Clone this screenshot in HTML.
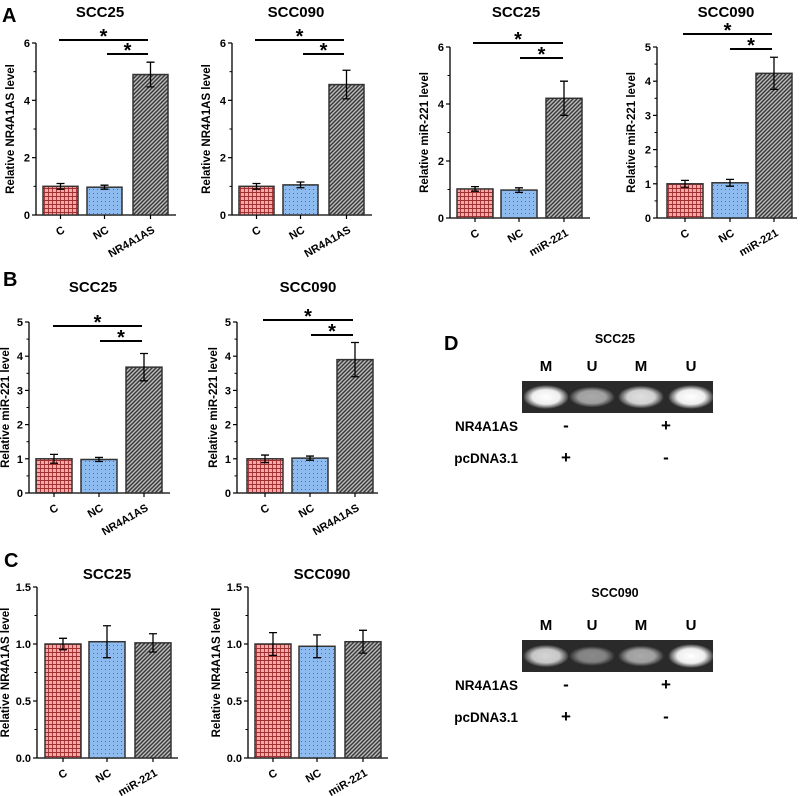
<!DOCTYPE html>
<html><head><meta charset="utf-8"><style>
body{margin:0;background:#fff}
svg{display:block;font-family:"Liberation Sans",Arial,sans-serif;font-weight:bold}
</style></head><body>
<svg id="fig" width="800" height="796" viewBox="0 0 800 796">
<defs>
<pattern id="pRed" width="4" height="4" patternUnits="userSpaceOnUse"><rect width="4" height="4" fill="#f7a7a7"/><path d="M0 0.5H4M0.5 0V4" stroke="#a03030" stroke-width="0.9"/></pattern>
<pattern id="pBlue" width="4" height="4" patternUnits="userSpaceOnUse"><rect width="4" height="4" fill="#8ebcf0"/><rect x="1" y="1" width="1" height="1" fill="#4a6fa0"/></pattern>
<pattern id="pGrey" width="4" height="4" patternUnits="userSpaceOnUse"><rect width="4" height="4" fill="#bdbdbd"/><path d="M0 4L4 0M-1 1L1 -1M3 5L5 3" stroke="#3a3a3a" stroke-width="1.5"/></pattern>
<radialGradient id="band"><stop offset="0" stop-color="#fff"/><stop offset="0.6" stop-color="#eee"/><stop offset="1" stop-color="#fff" stop-opacity="0"/></radialGradient>
</defs>
<g font-size="20">
<text x="2" y="22">A</text>
<text x="3" y="286">B</text>
<text x="4" y="567">C</text>
<text x="444" y="350">D</text>
</g>
<g id="charts"></g>
<g id="gels"></g>
</svg>
<script>
const cats_A12=["C","NC","NR4A1AS"];
const cats_A34=["C","NC","miR-221"];
const vals_A1=[1.0,0.97,4.9];    const err_A1=[0.1,0.07,0.43];
const vals_A2=[1.0,1.05,4.55];   const err_A2=[0.1,0.1,0.5];
const vals_A3=[1.02,0.98,4.2];   const err_A3=[0.08,0.08,0.6];
const vals_A4=[1.0,1.03,4.23];   const err_A4=[0.1,0.1,0.47];
const vals_B1=[1.0,0.98,3.68];   const err_B1=[0.13,0.06,0.4];
const vals_B2=[1.0,1.02,3.9];    const err_B2=[0.11,0.06,0.5];
const vals_C1=[1.0,1.02,1.01];   const err_C1=[0.05,0.14,0.08];
const vals_C2=[1.0,0.98,1.02];   const err_C2=[0.1,0.1,0.1];
const ticks6=[0,2,4,6], ticks5=[0,1,2,3,4,5], ticks15=[0,0.5,1.0,1.5];
const tickLbl15=["0.0","0.5","1.0","1.5"];

const NS="http://www.w3.org/2000/svg";
function mk(tag,attrs,parent,txt){const e=document.createElementNS(NS,tag);for(const k in attrs)e.setAttribute(k,attrs[k]);if(txt!==undefined)e.textContent=txt;parent.appendChild(e);return e;}
const fills=["url(#pRed)","url(#pBlue)","url(#pGrey)"];

function chart(o){
  const g=mk('g',{},document.getElementById('charts'));
  
  
  const y=v=>o.y0-(v/o.max)*(o.y0-o.yTop);
  const t=mk('text',{x:o.tx,y:o.ty,'text-anchor':'middle','font-size':15},g,o.title);
  
  
  const ax=mk('line',{x1:o.ax,y1:o.yTop,x2:o.ax,y2:o.y0,stroke:'#000','stroke-width':1.3},g);
  
  
  const xa=mk('line',{x1:o.ax,y1:o.y0,x2:o.axEnd,y2:o.y0,stroke:'#000','stroke-width':1.3},g);
  
  
  o.ticks.forEach((tv,i)=>{
    mk('line',{x1:o.ax-4,y1:y(tv),x2:o.ax,y2:y(tv),stroke:'#000','stroke-width':1.2},g);
    const tl=mk('text',{x:o.ax-6,y:y(tv)+4,'text-anchor':'end','font-size':11},g,o.tickLbl?o.tickLbl[i]:String(tv));
    
    
    if(i<o.ticks.length-1){const m=(tv+o.ticks[i+1])/2;mk('line',{x1:o.ax-2.5,y1:y(m),x2:o.ax,y2:y(m),stroke:'#000','stroke-width':1},g);}
  });
  const yt=mk('text',{transform:`translate(${o.ax-o.ytOff},${(o.yTop+o.y0)/2}) rotate(-90)`,'text-anchor':'middle','font-size':11.5},g,o.ytitle);
  
  
  o.vals.forEach((v,i)=>{
    const x0=o.bx[i], w=o.bw, cx=x0+w/2;
    const b=mk('rect',{x:x0,y:y(v),width:w,height:o.y0-y(v),fill:fills[i],stroke:'#333','stroke-width':1.5},g);
    
    
    const e=o.err[i];
    const eb=mk('path',{d:`M${cx} ${y(v+e)}V${y(v-e)}M${cx-4} ${y(v+e)}H${cx+4}M${cx-4} ${y(v-e)}H${cx+4}`,stroke:'#000','stroke-width':1.3,fill:'none'},g);
    
    
    mk('line',{x1:cx,y1:o.y0,x2:cx,y2:o.y0+4,stroke:'#000','stroke-width':1.2},g);
    const xl=mk('text',{transform:`translate(${cx+5},${o.y0+17}) rotate(-30)`,'text-anchor':'end','font-size':11},g,o.cats[i]);
    
    
  });
  if(o.sig){
    o.sig.forEach(s=>{
      const l=mk('line',{x1:s[0],y1:s[2],x2:s[1],y2:s[2],stroke:'#000','stroke-width':2},g);
      
      
      const st=mk('text',{x:(s[0]+s[1])/2,y:s[2]+3,'text-anchor':'middle','font-size':20},g,'*');
      
      
    });
  }
}
chart({name:'chart-a1',title:'SCC25',tx:100,ty:17,ax:36,axEnd:176,yTop:43,y0:215,max:6,ticks:ticks6,ytitle:'Relative NR4A1AS level',ytOff:22,bx:[43,87,133],bw:35,cats:cats_A12,vals:vals_A1,err:err_A1,sig:[[59,148,40],[107,148,54]]});
chart({name:'chart-a2',title:'SCC090',tx:296,ty:17,ax:232,axEnd:372,yTop:43,y0:215,max:6,ticks:ticks6,ytitle:'Relative NR4A1AS level',ytOff:22,bx:[239,283,329],bw:35,cats:cats_A12,vals:vals_A2,err:err_A2,sig:[[255,344,40],[303,344,54]]});
chart({name:'chart-a3',title:'SCC25',tx:516,ty:17,ax:450,axEnd:590,yTop:47,y0:218,max:6,ticks:ticks6,ytitle:'Relative miR-221 level',ytOff:22,bx:[457,501,546],bw:36,cats:cats_A34,vals:vals_A3,err:err_A3,sig:[[473,563,43],[520,563,58]]});
chart({name:'chart-a4',title:'SCC090',tx:726,ty:17,ax:657,axEnd:797,yTop:47,y0:218,max:5,ticks:ticks5,ytitle:'Relative miR-221 level',ytOff:22,bx:[667,712,756],bw:36,cats:cats_A34,vals:vals_A4,err:err_A4,sig:[[683,772,34],[730,772,49]]});
chart({name:'chart-b1',title:'SCC25',tx:93,ty:292,ax:29,axEnd:170,yTop:322,y0:493,max:5,ticks:ticks5,ytitle:'Relative miR-221 level',ytOff:20,bx:[36,81,126],bw:36,cats:cats_A12,vals:vals_B1,err:err_B1,sig:[[53,142,326],[100,142,341]]});
chart({name:'chart-b2',title:'SCC090',tx:308,ty:292,ax:237,axEnd:378,yTop:322,y0:493,max:5,ticks:ticks5,ytitle:'Relative miR-221 level',ytOff:20,bx:[247,292,337],bw:36,cats:cats_A12,vals:vals_B2,err:err_B2,sig:[[263,353,320],[311,353,335]]});
chart({name:'chart-c1',title:'SCC25',tx:107,ty:579,ax:37,axEnd:178,yTop:587,y0:758,max:1.5,ticks:ticks15,tickLbl:tickLbl15,ytitle:'Relative NR4A1AS level',ytOff:28,bx:[45,89,135],bw:36,cats:cats_A34,vals:vals_C1,err:err_C1});
chart({name:'chart-c2',title:'SCC090',tx:322,ty:579,ax:248,axEnd:388,yTop:587,y0:758,max:1.5,ticks:ticks15,tickLbl:tickLbl15,ytitle:'Relative NR4A1AS level',ytOff:28,bx:[255,299,345],bw:36,cats:cats_A34,vals:vals_C2,err:err_C2});

const laneLbl=["M","U","M","U"];
const bands1=[1.0,0.6,0.85,1.0];
const bands2=[0.8,0.45,0.6,1.0];
function gel(name,title,ty,gy,bands){
  const g=mk('g',{},document.getElementById('gels'));
  
  
  mk('text',{x:615,y:ty,'text-anchor':'middle','font-size':12.5},g,title);
  const lx=[546,592,641,691];
  laneLbl.forEach((l,i)=>{const t=mk('text',{x:lx[i],y:gy-10,'text-anchor':'middle','font-size':15},g,l);
    
    });
  const r=mk('rect',{x:522,y:gy,width:191,height:32,fill:'#2a2a2a'},g);
  
  
  bands.forEach((b,i)=>{
    mk('ellipse',{cx:lx[i],cy:gy+16,rx:23,ry:8+4*b,fill:'url(#band)',opacity:b},g);
  });
  const r1=gy+50, r2=gy+82;
  mk('text',{x:518,y:r1,'text-anchor':'end','font-size':13.5},g,'NR4A1AS');
  mk('text',{x:518,y:r2,'text-anchor':'end','font-size':13.5},g,'pcDNA3.1');
  mk('text',{x:566,y:r1,'text-anchor':'middle','font-size':17},g,'-');
  mk('text',{x:666,y:r1,'text-anchor':'middle','font-size':17},g,'+');
  mk('text',{x:566,y:r2,'text-anchor':'middle','font-size':17},g,'+');
  mk('text',{x:666,y:r2,'text-anchor':'middle','font-size':17},g,'-');
}
gel('gel-scc25','SCC25',343,381,bands1);
gel('gel-scc090','SCC090',597,640,bands2);
</script>
</body></html>
